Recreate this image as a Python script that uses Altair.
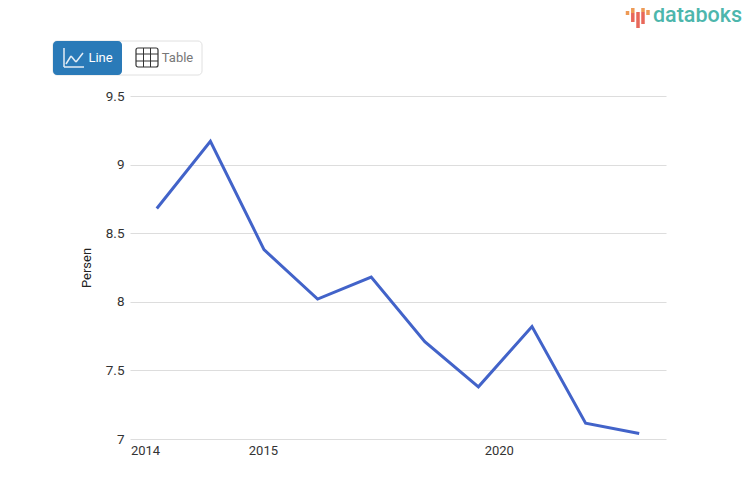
import altair as alt
import pandas as pd

categories = list(range(10))
values = [8.68, 9.17, 8.38, 8.02, 8.18, 7.71, 7.38, 7.82, 7.115, 7.04]
tick_positions = [-0.22, 1.98, 6.38]
tick_labels = ["2014", "2015", "2020"]
y_ticks = [7, 7.5, 8, 8.5, 9, 9.5]

LEFT, TOP = 130, 96
FONT = "Roboto"


def px(x):
    return alt.value(x - LEFT)


def py(y):
    return alt.value(y - TOP)


def rect(x0, x1, y0, y1, **kw):
    return alt.Chart().mark_rect(**kw).encode(x=px(x0), x2=px(x1), y=py(y0), y2=py(y1))


def rule(x0, x1, y0, y1, color, width):
    return alt.Chart().mark_rule(color=color, strokeWidth=width).encode(
        x=px(x0), x2=px(x1), y=py(y0), y2=py(y1))


def text(x, y, s, **kw):
    return alt.Chart().mark_text(text=s, font=FONT, baseline="middle", **kw).encode(x=px(x), y=py(y))


df = pd.DataFrame({"i": categories, "v": values})
label_expr = "{" + ",".join(f"'{p}':'{l}'" for p, l in zip(tick_positions, tick_labels)) + "}[datum.value]"

line = alt.Chart(df).mark_line(color="#4263C9", strokeWidth=3).encode(
    x=alt.X("i:Q", scale=alt.Scale(domain=[-0.5, 9.5], nice=False, zero=False),
            axis=alt.Axis(values=tick_positions, labelExpr=label_expr, title=None, grid=False,
                          domain=False, ticks=False, labelFont=FONT, labelFontSize=13,
                          labelColor="#333333", labelPadding=5, labelOverlap=False, labelFlush=False)),
    y=alt.Y("v:Q", scale=alt.Scale(domain=[7, 9.5], nice=False, zero=False),
            axis=alt.Axis(values=y_ticks, title="Persen", grid=True, gridColor="#dddddd", gridWidth=1,
                          domain=False, ticks=False, labelFont=FONT, labelFontSize=13.5,
                          labelColor="#333333", labelPadding=6, titleFont=FONT, titleFontSize=13,
                          titleFontWeight="normal", titleColor="#222222", titlePadding=12,
                          labelExpr="datum.value")),
)

# toggle buttons
parts = [
    rect(53, 202, 41, 75, fill="white", stroke="#e0e0e0", cornerRadius=4),
    rect(53, 122, 41, 75, fill="#2A7AB8", cornerRadius=4),
    rule(64, 64, 48, 67, "#e4edf5", 1.5),
    rule(64, 84, 67, 67, "#e4edf5", 1.5),
    rule(66, 71, 64, 56, "#e4edf5", 1.5),
    rule(71, 76, 56, 62, "#e4edf5", 1.5),
    rule(76, 83, 62, 53, "#e4edf5", 1.5),
    text(100.5, 58, "Line", fontSize=13, color="white", align="center"),
    rect(136, 158, 48, 67, fill="white", stroke="#333333", strokeWidth=1.2, cornerRadius=2),
    rule(143.5, 143.5, 48, 67, "#333333", 1),
    rule(150.5, 150.5, 48, 67, "#333333", 1),
    rule(136, 158, 54, 54, "#333333", 1),
    rule(136, 158, 61, 61, "#333333", 1),
    text(177.5, 58, "Table", fontSize=13, color="#777777", align="center"),
]

# logo
logo_bars = [
    (627.5, 11, 15, "#EE9A55"), (632.8, 8, 13, "#EE9A55"), (632.8, 13, 22, "#E8685A"),
    (638, 12, 28, "#E8685A"), (643, 8, 12, "#EE9A55"), (643, 12, 24, "#E8685A"),
    (648, 10, 15, "#EE9A55"),
]
for bx, y0, y1, c in logo_bars:
    parts.append(rule(bx, bx, y0, y1, c, 3.5))
parts.append(text(697.5, 16, "databoks", fontSize=21.5, fontWeight=500, color="#4DB6AC", align="center"))

chart = alt.layer(line, *parts).properties(
    width=536, height=343,
    autosize=alt.AutoSizeParams(type="none"),
    padding={"left": LEFT - 8, "top": TOP - 8, "right": 79, "bottom": 50},
).configure_view(stroke=None)

chart.save("out.html", embed_options={"renderer": "svg", "actions": False})
